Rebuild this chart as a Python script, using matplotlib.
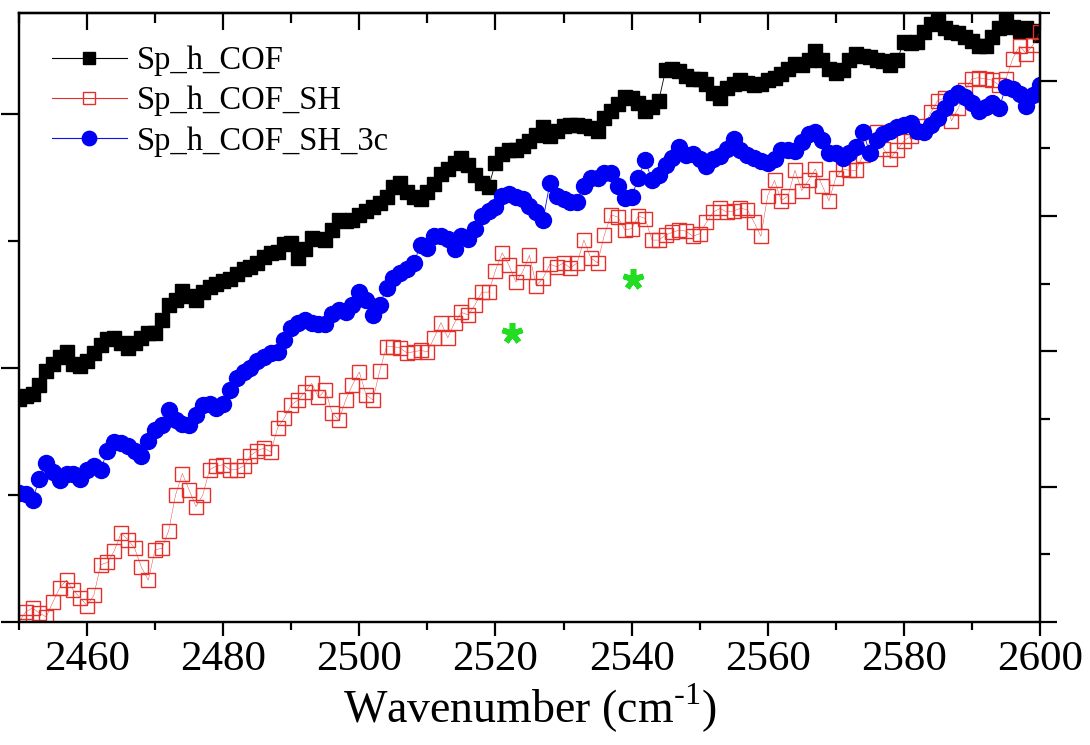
import matplotlib
matplotlib.use("Agg")
import matplotlib.pyplot as plt
from matplotlib.ticker import MultipleLocator
import numpy as np

plt.rcParams['font.family'] = ['Liberation Serif', 'DejaVu Serif']
plt.rcParams['mathtext.fontset'] = 'custom'
plt.rcParams['mathtext.rm'] = 'Liberation Serif'

wavenumber = np.arange(2450, 2601)

sp_h_cof = [
    17.6, 17.8, 18.0, 18.7, 19.8, 20.3, 20.9, 21.3, 20.3, 20.2,
    20.6, 21.2, 21.8, 22.3, 22.4, 22.0, 21.6, 22.0, 22.4, 22.8,
    22.8, 23.8, 25.0, 25.4, 26.1, 25.7, 25.4, 26.0, 26.4, 26.6,
    26.9, 27.0, 27.4, 27.8, 28.0, 28.3, 28.8, 29.1, 29.2, 29.8,
    29.9, 28.7, 29.4, 30.3, 30.2, 30.1, 30.9, 31.7, 31.6, 31.7,
    32.1, 32.4, 32.7, 33.0, 33.5, 34.3, 34.6, 33.9, 33.5, 33.3,
    33.9, 34.5, 35.3, 35.7, 36.2, 36.6, 36.0, 35.2, 34.6, 34.3,
    36.2, 36.9, 37.2, 37.2, 37.5, 37.9, 38.4, 39.0, 38.3, 38.7,
    39.1, 39.2, 39.2, 39.1, 38.9, 38.7, 39.7, 40.3, 40.8, 41.4,
    41.3, 40.9, 40.3, 40.6, 41.1, 43.5, 43.6, 43.4, 43.0, 42.8,
    42.8, 42.4, 41.7, 41.3, 42.1, 42.4, 42.7, 42.5, 42.3, 42.4,
    42.7, 42.9, 43.2, 43.6, 44.0, 43.9, 44.3, 45.0, 44.3, 43.6,
    43.3, 43.5, 44.3, 44.8, 44.6, 44.5, 44.3, 44.2, 43.9, 44.3,
    45.7, 45.6, 45.7, 46.5, 47.1, 47.4, 46.8, 46.5, 46.4, 46.1,
    45.8, 45.4, 45.4, 46.1, 46.8, 47.4, 46.9, 46.6, 46.8, 46.6,
    46.3,
]

sp_h_cof_sh = [
    0.0, 0.8, 1.1, 0.7, 0.4, 1.6, 2.7, 3.3, 2.5, 1.9,
    1.3, 2.1, 4.5, 4.7, 5.6, 7.0, 6.5, 5.8, 4.3, 3.3,
    5.7, 5.8, 7.2, 10.0, 11.7, 10.4, 9.1, 10.0, 12.0, 12.3,
    12.4, 12.0, 12.0, 12.3, 13.1, 13.5, 13.7, 13.4, 15.3, 16.1,
    17.1, 17.5, 18.1, 18.8, 17.7, 18.3, 16.5, 15.9, 17.5, 18.7,
    19.7, 17.9, 17.5, 19.8, 21.7, 21.7, 21.6, 21.2, 21.3, 21.4,
    21.3, 22.4, 23.6, 22.4, 23.6, 24.4, 24.2, 25.0, 26.0, 26.0,
    27.7, 29.1, 28.1, 26.8, 27.6, 28.9, 26.5, 27.1, 28.2, 28.0,
    28.3, 27.9, 28.3, 30.1, 28.7, 28.3, 30.5, 32.1, 31.9, 30.9,
    31.0, 32.0, 31.8, 30.1, 30.1, 30.5, 30.7, 30.9, 30.8, 30.4,
    30.6, 31.5, 32.3, 32.6, 32.3, 32.4, 32.6, 32.5, 31.5, 30.4,
    33.6, 34.8, 33.2, 33.6, 35.6, 34.0, 34.8, 35.7, 34.4, 33.2,
    35.0, 35.7, 35.6, 35.6, 36.8, 37.8, 38.6, 37.3, 36.5, 37.2,
    37.9, 38.3, 38.7, 39.1, 40.2, 41.1, 41.3, 39.5, 40.5, 41.9,
    42.8, 42.9, 42.8, 42.7, 42.3, 42.8, 44.4, 45.4, 44.8, 45.5,
    46.5,
]

sp_h_cof_sh_3c = [
    10.2, 10.1, 9.6, 11.3, 12.5, 11.8, 11.2, 11.7, 11.7, 11.3,
    12.0, 12.3, 12.0, 13.5, 14.2, 14.1, 13.9, 13.5, 13.1, 14.3,
    15.1, 15.5, 16.7, 15.9, 15.6, 15.5, 16.3, 17.1, 17.2, 16.9,
    17.2, 18.3, 19.2, 19.7, 20.0, 20.6, 20.9, 21.2, 21.3, 22.2,
    23.2, 23.6, 23.8, 23.6, 23.5, 23.5, 24.3, 24.6, 24.4, 25.0,
    26.0, 25.4, 24.2, 25.0, 26.3, 27.1, 27.5, 27.8, 28.3, 29.7,
    29.5, 30.4, 30.4, 30.2, 29.4, 30.4, 30.2, 31.0, 32.0, 32.4,
    32.7, 33.6, 33.7, 33.5, 33.3, 32.8, 32.3, 31.7, 34.6, 33.6,
    33.3, 33.1, 33.1, 34.4, 35.0, 35.0, 35.4, 35.4, 34.4, 33.4,
    33.5, 35.0, 36.4, 34.8, 35.2, 36.0, 36.6, 37.4, 36.8, 36.9,
    36.5, 35.9, 36.5, 36.7, 37.3, 38.1, 37.2, 36.8, 36.6, 36.3,
    36.2, 36.5, 37.2, 37.2, 37.1, 37.8, 38.5, 38.6, 38.0, 37.0,
    37.0, 36.6, 37.0, 37.4, 38.6, 37.0, 38.0, 38.5, 38.7, 39.0,
    39.2, 39.3, 38.7, 38.6, 39.2, 39.7, 40.5, 41.3, 41.7, 41.4,
    40.9, 40.3, 40.6, 40.9, 40.5, 42.2, 42.0, 41.6, 40.7, 41.5,
    42.3,
]

# green asterisks marking the S-H band
star_x = [2522.4, 2540.2]
star_y = [22.8, 27.0]

fig = plt.figure(figsize=(10.9, 7.45), dpi=100)
ax = fig.add_axes([0.0174, 0.1651, 0.9367, 0.8175])

ax.plot(wavenumber, sp_h_cof, color='black', lw=0.6, marker='s', ms=10,
        mfc='black', mec='black', label='Sp_h_COF')
ax.plot(wavenumber, sp_h_cof_sh, color='#e4302a', lw=0.3, marker='s', ms=10,
        mfc='none', mec='#e4302a', mew=1.0, label='Sp_h_COF_SH')
ax.plot(wavenumber, sp_h_cof_sh_3c, color='#1010ee', lw=0.6, marker='o', ms=11.5,
        mfc='#0000f5', mec='#0000f5', label='Sp_h_COF_SH_3c')
ax.plot(star_x, star_y, ls='none', marker=(5, 2, 0), ms=15, mew=4,
        color='#22dd22')

ax.set_xlim(2450, 2600)
ax.set_ylim(0, 48)
ax.xaxis.set_major_locator(MultipleLocator(20))
ax.xaxis.set_minor_locator(MultipleLocator(10))
ax.yaxis.set_major_locator(MultipleLocator(20))
ax.yaxis.set_minor_locator(MultipleLocator(10))
ax.tick_params(which='major', direction='out', length=10, width=1.6, labelsize=31)
ax.tick_params(which='minor', direction='out', length=6, width=1.6)
ax.tick_params(axis='y', labelleft=False)
ax.tick_params(axis='y', which='major', length=13)
ax.tick_params(axis='y', which='minor', length=8)
for sp in ax.spines.values():
    sp.set_linewidth(1.6)

top = ax.secondary_xaxis('top')
top.xaxis.set_major_locator(MultipleLocator(20))
top.xaxis.set_minor_locator(MultipleLocator(10))
top.tick_params(which='major', direction='in', length=12, width=1.6, labeltop=False)
top.tick_params(which='minor', direction='in', length=7, width=1.6)
top.spines['top'].set_linewidth(1.6)

right = ax.twinx()
right.set_ylim(0, 0.9)
right.yaxis.set_major_locator(MultipleLocator(0.2))
right.yaxis.set_minor_locator(MultipleLocator(0.1))
right.tick_params(which='major', direction='out', length=12, width=1.6, labelright=False)
right.tick_params(which='minor', direction='out', length=7, width=1.6)
for sp in right.spines.values():
    sp.set_linewidth(1.6)

ax.set_xlabel(r'Wavenumber (cm$^{\text{-}1}$)', fontsize=33, labelpad=2)

leg = ax.legend(loc='upper left', bbox_to_anchor=(0.0, 1.0), frameon=False,
                fontsize=23.5, handlelength=2.3, handletextpad=0.3, labelspacing=0.3,
                borderaxespad=0.8, borderpad=0.2, markerscale=0.9)
for line in leg.get_lines():
    line.set_linewidth(0.8)

fig.savefig('out.png', dpi=100)
